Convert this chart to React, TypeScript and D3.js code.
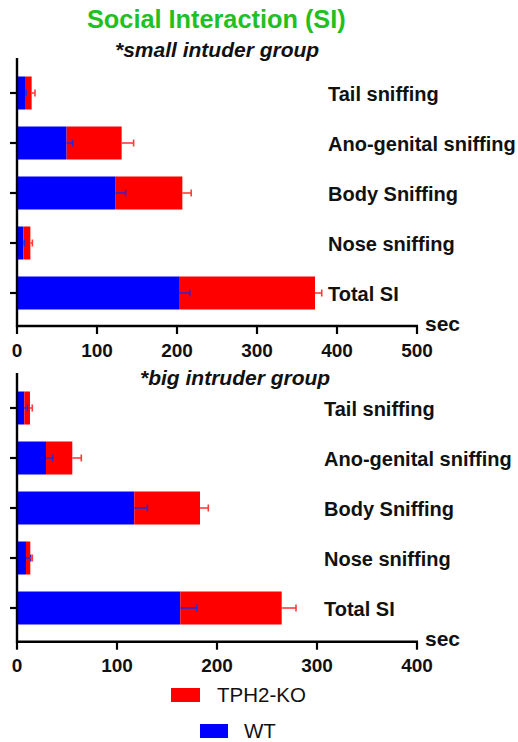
import React from 'react';
import * as d3 from 'd3';

const categories = ['Tail sniffing', 'Ano-genital sniffing', 'Body Sniffing', 'Nose sniffing', 'Total SI'];
const seriesKeys = ['WT', 'TPH2-KO'];

const smallWT = [10, 62, 123.3, 7.9, 202.5];
const smallWTErr = [1.5, 7.5, 12.5, 1.5, 13.5];
const smallKO = [8.3, 68.8, 83.4, 8.8, 170];
const smallKOErr = [4.2, 15, 11, 2.5, 8.4];

const bigWT = [7.3, 29, 117.3, 9, 163.3];
const bigWTErr = [3, 6.7, 13, 4.7, 16.4];
const bigKO = [5.7, 26.3, 65.7, 4.3, 101.4];
const bigKOErr = [2.3, 9, 8.3, 2, 14.3];

const smallTicks = [0, 100, 200, 300, 400, 500];
const bigTicks = [0, 100, 200, 300, 400];

const FONT = "'Liberation Sans', Arial, Helvetica, sans-serif";
const BLUE = '#0000ff';
const RED = '#ff0000';

type PanelProps = {
  wt: number[]; wtErr: number[]; ko: number[]; koErr: number[];
  ticks: number[]; axisTop: number; bandTop: number; bandBottom: number; axisY: number;
  labelX: number; subtitle: string; subtitleX: number; subtitleY: number;
};

function Panel(p: PanelProps) {
  const x0 = 17, x1 = 417;
  const x = d3.scaleLinear().domain([0, p.ticks[p.ticks.length - 1]]).range([x0, x1]);
  const y = d3.scaleBand<string>().domain(categories).range([p.bandTop, p.bandBottom]).paddingInner(0.34).paddingOuter(0.17);
  const rows = categories.map((c, i) => ({ cat: c, WT: p.wt[i], 'TPH2-KO': p.ko[i], wtErr: p.wtErr[i], koErr: p.koErr[i] }));
  const stacked = d3.stack<any>().keys(seriesKeys)(rows);
  const colors: Record<string, string> = { WT: BLUE, 'TPH2-KO': RED };
  const bw = y.bandwidth();
  return (
    <g>
      <text x={p.subtitleX} y={p.subtitleY} fontFamily={FONT} fontWeight="bold" fontStyle="italic" fontSize={21} fill="#111">{p.subtitle}</text>
      {stacked.map(s => (
        <g key={s.key}>
          {s.map((d, i) => (
            <rect key={i} x={x(d[0])} y={y(categories[i])} width={x(d[1]) - x(d[0])} height={bw} fill={colors[s.key]} />
          ))}
        </g>
      ))}
      {stacked.map(s => (
        <g key={'e' + s.key}>
          {s.map((d, i) => {
            const err = s.key === 'WT' ? rows[i].wtErr : rows[i].koErr;
            const cy = (y(categories[i]) as number) + bw / 2;
            const xa = x(d[1]), xb = x(d[1] + err);
            const col = s.key === 'WT' ? '#2a2ad0' : '#ff3b3b';
            return (
              <g key={i} stroke={col} strokeWidth={1.6}>
                <line x1={xa} x2={xb} y1={cy} y2={cy} />
                <line x1={xb} x2={xb} y1={cy - 3.5} y2={cy + 3.5} />
              </g>
            );
          })}
        </g>
      ))}
      {categories.map((c, i) => (
        <g key={'t' + i}>
          <line x1={x0 - 7} x2={x0} y1={(y(c) as number) + bw / 2} y2={(y(c) as number) + bw / 2} stroke="#000" strokeWidth={2.2} />
          <text x={p.labelX} y={(y(c) as number) + bw / 2 + 7.5} fontFamily={FONT} fontWeight="bold" fontSize={20} fill="#111">{c}</text>
        </g>
      ))}
      <line x1={x0} x2={x0} y1={p.axisTop} y2={p.axisY + 1} stroke="#000" strokeWidth={2.4} />
      <line x1={x0 - 1} x2={x1 + 1} y1={p.axisY} y2={p.axisY} stroke="#000" strokeWidth={2.4} />
      {p.ticks.map(t => (
        <g key={'x' + t}>
          <line x1={x(t)} x2={x(t)} y1={p.axisY} y2={p.axisY + 8} stroke="#000" strokeWidth={2.2} />
          <text x={x(t)} y={p.axisY + 30.5} textAnchor="middle" fontFamily={FONT} fontWeight="bold" fontSize={19} fill="#111">{t}</text>
        </g>
      ))}
      <text x={425} y={p.axisY + 4.5} fontFamily={FONT} fontWeight="bold" fontSize={21} fill="#111">sec</text>
    </g>
  );
}

export default function App() {
  return (
    <svg width={518} height={742} style={{ position: 'absolute', left: 0, top: 0, background: '#fff' }}>
      <rect width={518} height={742} fill="#fff" />
      <text x={87} y={28} fontFamily={FONT} fontWeight="bold" fontSize={25.3} fill="#1fc01f">Social Interaction (SI)</text>
      <Panel wt={smallWT} wtErr={smallWTErr} ko={smallKO} koErr={smallKOErr} ticks={smallTicks}
        axisTop={58} bandTop={68} bandBottom={318} axisY={326} labelX={328}
        subtitle="*small intuder group" subtitleX={115} subtitleY={57} />
      <Panel wt={bigWT} wtErr={bigWTErr} ko={bigKO} koErr={bigKOErr} ticks={bigTicks}
        axisTop={373} bandTop={383} bandBottom={633} axisY={641.7} labelX={324}
        subtitle="*big intruder group" subtitleX={140} subtitleY={385} />
      <rect x={171} y={688} width={29} height={14} fill={RED} />
      <text x={217} y={702} fontFamily={FONT} fontSize={20.5} fill="#111">{seriesKeys[1]}</text>
      <rect x={200} y={724} width={28} height={14} fill={BLUE} />
      <text x={244} y={737.5} fontFamily={FONT} fontSize={20.5} fill="#111">{seriesKeys[0]}</text>
    </svg>
  );
}
